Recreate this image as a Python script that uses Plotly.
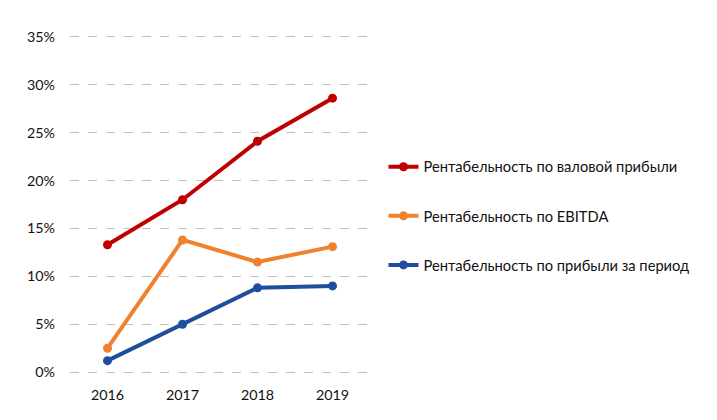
import plotly.graph_objects as go

years = ["2016", "2017", "2018", "2019"]
gross = [0.133, 0.180, 0.241, 0.286]
ebitda = [0.025, 0.138, 0.115, 0.131]
net = [0.012, 0.050, 0.088, 0.090]
names = ["Рентабельность по валовой прибыли", "Рентабельность по EBITDA",
         "Рентабельность по прибыли за период"]
colors = ["#C00000", "#F0812F", "#1F4E9B"]

fig = go.Figure()
for i, (vals, name, c) in enumerate(zip([gross, ebitda, net], names, colors)):
    fig.add_trace(go.Scatter(x=years, y=vals, name=name, mode="lines+markers",
                             line=dict(color=c, width=4), marker=dict(size=9, color=c),
                             legendgroup=f"g{i}"))

font = "Lato"
fig.update_layout(
    width=717, height=420, margin=dict(l=70, r=347, t=33, b=44),
    plot_bgcolor="white", paper_bgcolor="white",
    font=dict(family=font, size=14, color="#111111"),
    legend=dict(x=1.045, y=0.657, xanchor="left", yanchor="top", tracegroupgap=27,
                font=dict(size=14.7, family=font, color="#111111"), bgcolor="rgba(0,0,0,0)"),
    xaxis=dict(type="category", range=[-0.5, 3.5], showgrid=False, showline=False,
               ticks="", tickfont=dict(size=14.3)),
    yaxis=dict(range=[-0.004, 0.354], dtick=0.05, tickformat=".0%", showgrid=True,
               gridcolor="#C0C0C0", griddash="dash", gridwidth=1, zeroline=False,
               showline=False, ticks="", ticklen=0, tickfont=dict(size=14.3)),
)
fig.update_yaxes(ticklabelstandoff=14)
fig.update_xaxes(ticklabelstandoff=9)
fig.write_html("out.html")
